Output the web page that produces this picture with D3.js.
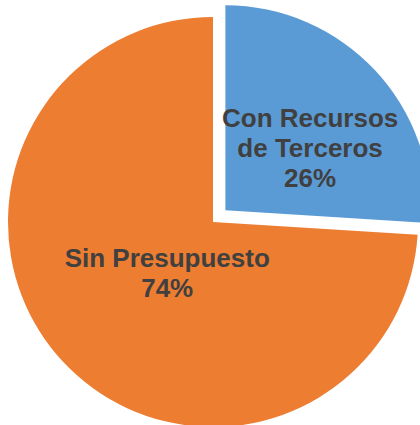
<!DOCTYPE html>
<html>
<head>
<meta charset="utf-8">
<script src="https://cdn.jsdelivr.net/npm/d3@7"></script>
<style>
  html, body { margin: 0; padding: 0; background: #fff; }
</style>
</head>
<body>
<div id="chart"></div>
<script>
// slice data (clockwise from 12 o'clock)
const categories = [["Con Recursos", "de Terceros"], ["Sin Presupuesto"]];
const values = [26, 74];
const percentLabels = ["26%", "74%"];
const colors = ["#5B9BD5", "#ED7D31"];

const width = 420, height = 425;
const cx = 213, cy = 222, radius = 205;
const explode = [17, 0];   // blue slice pulled out
const labelRadius = [0.54, 0.34];
const labelNudge = [[4, 13], [5, 3]];

const svg = d3.select("#chart").append("svg")
    .attr("width", width)
    .attr("height", height);

const pie = d3.pie().sort(null).value(d => d);
const arcs = pie(values);

const arc = d3.arc().innerRadius(0).outerRadius(radius);

const g = svg.append("g").attr("transform", `translate(${cx},${cy})`);

//slice groups, each shifted along its bisector
const slices = g.selectAll("g.slice")
    .data(arcs)
    .enter().append("g")
    .attr("class", "slice")
    .attr("transform", (d, i) => {
        let mid = (d.startAngle + d.endAngle) / 2;
        let dx = Math.sin(mid) * explode[i];
        let dy = -Math.cos(mid) * explode[i];
        return `translate(${dx},${dy})`;
    });

slices.append("path")
    .attr("d", arc)
    .style("fill", (d, i) => colors[i]);

//labels
slices.each(function(d, i) {
    let r = radius * labelRadius[i];
    let labelArc = d3.arc().innerRadius(r).outerRadius(r);
    let [lx, ly] = labelArc.centroid(d);
    lx += labelNudge[i][0];
    ly += labelNudge[i][1];
    let lines = categories[i].concat([percentLabels[i]]);
    let lineH = 30;
    let top = ly - (lines.length - 1) * lineH / 2 + 9;

    let t = d3.select(this).append("text")
        .attr("text-anchor", "middle")
        .style("font-family", "'Liberation Sans', Arial, sans-serif")
        .style("font-weight", "bold")
        .style("font-size", "26px")
        .style("fill", "#404040");

    lines.forEach((s, k) => {
        t.append("tspan")
            .attr("x", lx)
            .attr("y", top + k * lineH)
            .text(s);
    });
});
</script>
</body>
</html>
